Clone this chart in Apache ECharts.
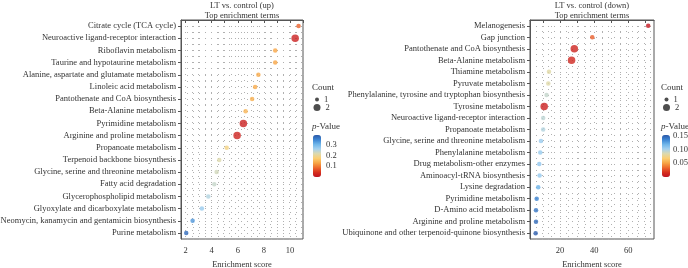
<!DOCTYPE html>
<html><head><meta charset="utf-8">
<script src="https://cdn.jsdelivr.net/npm/echarts@6/dist/echarts.min.js"></script>
<style>html,body{margin:0;padding:0;background:#fff}#c{width:688px;height:268px}</style>
</head><body><div id="c"></div>
<script>
// ---- Data: LT vs. control (up) ----
var upTerms = ["Citrate cycle (TCA cycle)","Neuroactive ligand-receptor interaction","Riboflavin metabolism","Taurine and hypotaurine metabolism","Alanine, aspartate and glutamate metabolism","Linoleic acid metabolism","Pantothenate and CoA biosynthesis","Beta-Alanine metabolism","Pyrimidine metabolism","Arginine and proline metabolism","Propanoate metabolism","Terpenoid backbone biosynthesis","Glycine, serine and threonine metabolism","Fatty acid degradation","Glycerophospholipid metabolism","Glyoxylate and dicarboxylate metabolism","Neomycin, kanamycin and gentamicin biosynthesis","Purine metabolism"];
var upScore = [10.66,10.4,8.87,8.87,7.58,7.33,7.1,6.6,6.43,5.95,5.15,4.58,4.38,4.2,3.74,3.25,2.54,2.05];
var upP = [0.08,0.02,0.13,0.13,0.135,0.135,0.14,0.145,0.02,0.025,0.185,0.215,0.225,0.235,0.25,0.27,0.33,0.37];
var upCount = [1,2,1,1,1,1,1,1,2,2,1,1,1,1,1,1,1,1];

// ---- Data: LT vs. control (down) ----
var downTerms = ["Melanogenesis","Gap junction","Pantothenate and CoA biosynthesis","Beta-Alanine metabolism","Thiamine metabolism","Pyruvate metabolism","Phenylalanine, tyrosine and tryptophan biosynthesis","Tyrosine metabolism","Neuroactive ligand-receptor interaction","Propanoate metabolism","Glycine, serine and threonine metabolism","Phenylalanine metabolism","Drug metabolism-other enzymes","Aminoacyl-tRNA biosynthesis","Lysine degradation","Pyrimidine metabolism","D-Amino acid metabolism","Arginine and proline metabolism","Ubiquinone and other terpenoid-quinone biosynthesis"];
var downScore = [71.6,38.9,28.4,26.8,13.6,13.2,12.2,10.8,10.2,10.2,8.9,8.5,7.9,8.1,7.3,6.4,6.0,6.0,5.8];
var downP = [0.003,0.03,0.01,0.012,0.082,0.083,0.092,0.008,0.094,0.097,0.105,0.106,0.108,0.107,0.12,0.136,0.14,0.145,0.15];
var downCount = [1,1,2,2,1,1,1,2,1,1,1,1,1,1,1,1,1,1,1];

var upTicksX = [2,3,4,5,6,7,8,9,10,11];
var upLabelsX = [2,4,6,8,10];
var downTicksX = [10,20,30,40,50,60,70];
var downLabelsX = [20,40,60];
var upTicksP = [0.1,0.2,0.3];
var downTicksP = [0.05,0.10,0.15];

var ramp = ['#bf1220','#d7301f','#ee6a2c','#f7a545','#fbcf72','#dcd9ae','#a5d1ef','#6fb6ea','#3c84d2','#2a58a8'];
var FONT = 'Liberation Serif';
var TXT = '#333';

function pts(terms, score, p, cnt){
  return terms.map(function(t,i){ return [score[i], t, p[i], cnt[i]]; });
}
function sizeFn(v){ return v[3] === 2 ? 7.5 : 4.5; }
function halfSteps(a){ var r=[]; for (var i=0;i<a.length;i++){ r.push(a[i]); if(i<a.length-1) r.push((a[i]+a[i+1])/2); } return r; }
function inList(list, v){ return list.some(function(t){ return Math.abs(t-v) < 1e-6; }); }

var grids = [
  {left:181, top:20, width:122, height:219, show:true, borderColor:'#555', borderWidth:1, outerBoundsMode:'none', containLabel:false},
  {left:530, top:20, width:124, height:219, show:true, borderColor:'#555', borderWidth:1, outerBoundsMode:'none', containLabel:false},
  {left:313, top:135, width:8, height:42, outerBoundsMode:'none', containLabel:false},
  {left:662, top:135, width:8, height:42, outerBoundsMode:'none', containLabel:false}
];
var dotLine = {show:true, lineStyle:{color:'#b0b0b0', width:1, type:[1,5]}};

function catAxis(gi, terms){
  return {type:'category', gridIndex:gi, data:terms, inverse:true, boundaryGap:true,
    axisLine:{show:true, lineStyle:{color:'#555'}}, axisTick:{show:true, alignWithLabel:true, length:3, lineStyle:{color:'#555'}},
    axisLabel:{fontFamily:FONT, fontSize:8.5, color:TXT, margin:5, interval:0}, splitLine:{show:false}};
}
function halfAxis(gi, n){
  return {type:'value', gridIndex:gi, min:0, max:n, interval:0.5, show:true, inverse:true,
    axisLine:{show:false}, axisTick:{show:false}, axisLabel:{show:false}, splitLine:dotLine};
}
function xAx(gi, min, max, ticks, labels){
  return {type:'value', gridIndex:gi, min:min, max:max,
     name:'Enrichment score', nameLocation:'middle', nameGap:20, nameTextStyle:{fontFamily:FONT, fontSize:8.5, color:TXT},
     axisLine:{show:true, lineStyle:{color:'#555'}},
     axisTick:{show:true, length:3, lineStyle:{color:'#555'}, customValues:ticks},
     axisLabel:{fontFamily:FONT, fontSize:8.5, color:TXT, margin:7, customValues:labels, showMinLabel:true, showMaxLabel:true,
       formatter:function(v){ return inList(labels, v) ? String(v) : ''; }},
     splitLine:{show:false}};
}
function xGridAx(gi, min, max, vals){
  return {type:'value', gridIndex:gi, min:min, max:max, position:'top', show:true,
     axisLine:{show:false}, axisTick:{show:false, customValues:vals}, axisLabel:{show:false, customValues:vals},
     splitLine:dotLine};
}

var option = {
  animation:false,
  textStyle:{fontFamily:FONT},
  title:[
    {text:'LT vs. control (up)\nTop enrichment terms', left:242, top:1, textAlign:'center', padding:0,
     textStyle:{fontFamily:FONT, fontSize:8.5, fontWeight:'normal', color:TXT, lineHeight:10}},
    {text:'LT vs. control (down)\nTop enrichment terms', left:592, top:1, textAlign:'center', padding:0,
     textStyle:{fontFamily:FONT, fontSize:8.5, fontWeight:'normal', color:TXT, lineHeight:10}},
    {text:'Count', left:312, top:83, padding:0, textStyle:{fontFamily:FONT, fontSize:9, fontWeight:'normal', color:TXT}},
    {text:'Count', left:661, top:83, padding:0, textStyle:{fontFamily:FONT, fontSize:9, fontWeight:'normal', color:TXT}},
    {text:'{i|p}-Value', left:312, top:122, padding:0, textStyle:{fontFamily:FONT, fontSize:9, fontWeight:'normal', color:TXT,
      rich:{i:{fontFamily:FONT, fontSize:9, fontStyle:'italic', color:TXT}}}},
    {text:'{i|p}-Value', left:661, top:122, padding:0, textStyle:{fontFamily:FONT, fontSize:9, fontWeight:'normal', color:TXT,
      rich:{i:{fontFamily:FONT, fontSize:9, fontStyle:'italic', color:TXT}}}}
  ],
  legend:[
    {data:[{name:'1', icon:'circle'}], left:315, top:95, padding:0, itemWidth:4, itemHeight:4, selectedMode:false, textStyle:{fontFamily:FONT, fontSize:8.5, color:TXT}},
    {data:[{name:'2', icon:'circle'}], left:313.5, top:103, padding:0, itemWidth:7, itemHeight:7, selectedMode:false, textStyle:{fontFamily:FONT, fontSize:8.5, color:TXT}},
    {data:[{name:'1', icon:'circle'}], left:664.5, top:95, padding:0, itemWidth:4, itemHeight:4, selectedMode:false, textStyle:{fontFamily:FONT, fontSize:8.5, color:TXT}},
    {data:[{name:'2', icon:'circle'}], left:663, top:103, padding:0, itemWidth:7, itemHeight:7, selectedMode:false, textStyle:{fontFamily:FONT, fontSize:8.5, color:TXT}}
  ],
  grid:grids,
  xAxis:[
    xAx(0, 1.65, 11, upTicksX, upLabelsX),
    xAx(1, 2.5, 75, downTicksX, downLabelsX),
    {type:'value', gridIndex:2, show:false, min:0, max:1},
    {type:'value', gridIndex:3, show:false, min:0, max:1},
    xGridAx(0, 1.65, 11, halfSteps(upTicksX)),
    xGridAx(1, 2.5, 75, halfSteps(downTicksX))
  ],
  yAxis:[
    catAxis(0, upTerms),
    catAxis(1, downTerms),
    {type:'value', gridIndex:2, min:0, max:0.39, position:'right',
     axisLine:{show:false}, axisTick:{show:false}, splitLine:{show:false},
     axisLabel:{fontFamily:FONT, fontSize:8.5, color:TXT, margin:5, customValues:upTicksP,
       formatter:function(v){ return inList(upTicksP, v) ? v.toFixed(1) : ''; }}},
    {type:'value', gridIndex:3, min:0, max:0.152, position:'right',
     axisLine:{show:false}, axisTick:{show:false}, splitLine:{show:false},
     axisLabel:{fontFamily:FONT, fontSize:8.5, color:TXT, margin:3, customValues:downTicksP,
       formatter:function(v){ return inList(downTicksP, v) ? v.toFixed(2) : ''; }}},
    halfAxis(0, upTerms.length),
    halfAxis(1, downTerms.length)
  ],
  visualMap:[
    {type:'continuous', seriesIndex:0, dimension:2, min:0, max:0.39, inRange:{color:ramp},
     left:313, top:135, itemWidth:8, itemHeight:42, padding:0, calculable:false, text:null, showLabel:false, hoverLink:false},
    {type:'continuous', seriesIndex:1, dimension:2, min:0, max:0.152, inRange:{color:ramp},
     left:662, top:135, itemWidth:8, itemHeight:42, padding:0, calculable:false, text:null, showLabel:false, hoverLink:false}
  ],
  series:[
    {type:'scatter', xAxisIndex:0, yAxisIndex:0, data:pts(upTerms, upScore, upP, upCount), symbolSize:sizeFn, z:5},
    {type:'scatter', xAxisIndex:1, yAxisIndex:1, data:pts(downTerms, downScore, downP, downCount), symbolSize:sizeFn, z:5},
    {type:'scatter', name:'1', xAxisIndex:0, yAxisIndex:0, data:[], itemStyle:{color:'#222'}},
    {type:'scatter', name:'2', xAxisIndex:0, yAxisIndex:0, data:[], itemStyle:{color:'#222'}}
  ]
};
var chart = echarts.init(document.getElementById('c'), null, {renderer:'canvas'});
chart.setOption(option);
</script></body></html>
